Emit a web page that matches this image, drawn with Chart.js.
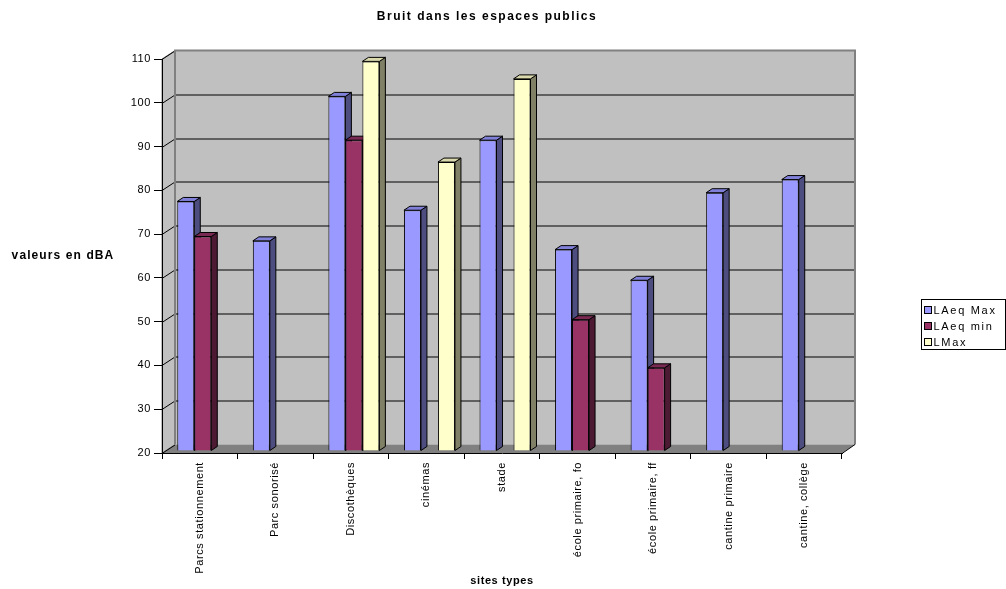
<!DOCTYPE html>
<html>
<head>
<meta charset="utf-8">
<script src="https://cdn.jsdelivr.net/npm/chart.js@4.4.0/dist/chart.umd.min.js"></script>
<style>
  html, body { margin: 0; padding: 0; background: #fff; }
  #wrap { width: 1006px; height: 589px; position: relative; }
</style>
</head>
<body>
<div id="wrap"><canvas id="bruitChart"></canvas></div>
<script>
// data
const sites = ['Parcs stationnement', 'Parc sonorisé', 'Discothèques', 'cinémas', 'stade',
               'école primaire, fo', 'école primaire, ff', 'cantine primaire', 'cantine, collège'];
const laeqMax = [77, 68, 101, 75, 91, 66, 59, 79, 82];
const laeqMin = [69, null, 91, null, null, 50, 39, null, null];
const lMax    = [null, null, 109, 86, 105, null, null, null, null];
const yMin = 20, yMax = 110, yStep = 10;

const chartTitle = 'Bruit dans les espaces publics';
const yTitle = 'valeurs en dBA';
const xTitle = 'sites types';

// 3d look
const DX = 13, DY = -8.5;      // depth of the walls
const BD = 6, BH = 4;          // depth of a bar
const SHIFT_X = 3, SHIFT_Y = -2;
const faces = [
  { side: '#4d4d80', top: '#8080d9' },
  { side: '#4d1a33', top: '#7a2952' },
  { side: '#808066', top: '#d9d9ad' }
];

const FONT = "'Liberation Sans', Arial, sans-serif";
Chart.defaults.font.family = FONT;
Chart.defaults.font.size = 11;
Chart.defaults.color = '#000';

function poly(ctx, pts, fill, stroke) {
  ctx.beginPath();
  ctx.moveTo(pts[0][0], pts[0][1]);
  for (let i = 1; i < pts.length; i++) ctx.lineTo(pts[i][0], pts[i][1]);
  ctx.closePath();
  if (fill) { ctx.fillStyle = fill; ctx.fill(); }
  if (stroke) { ctx.strokeStyle = stroke; ctx.lineWidth = 1; ctx.stroke(); }
}

const walls = {
  id: 'walls',
  beforeDraw(chart) {
    const { ctx, chartArea: a, scales: { y } } = chart;
    ctx.save();
    // side wall
    poly(ctx, [[a.left, a.top], [a.left + DX, a.top + DY], [a.left + DX, a.bottom + DY], [a.left, a.bottom]], '#c0c0c0', '#808080');
    // back wall
    poly(ctx, [[a.left + DX, a.top + DY], [a.right + DX, a.top + DY], [a.right + DX, a.bottom + DY], [a.left + DX, a.bottom + DY]], '#c0c0c0', null);
    // floor
    poly(ctx, [[a.left, a.bottom], [a.right, a.bottom], [a.right + DX, a.bottom + DY], [a.left + DX, a.bottom + DY]], '#808080', null);
    // grid lines
    ctx.lineWidth = 1;
    y.ticks.forEach(t => {
      const py = Math.round(y.getPixelForValue(t.value)) + 0.5;
      ctx.strokeStyle = '#000';
      ctx.beginPath();
      ctx.moveTo(a.left, py);
      ctx.lineTo(a.left + DX, py + DY);
      if (t.value > yMin && t.value < yMax) ctx.lineTo(a.right + DX, py + DY);
      ctx.stroke();
    });
    // wall borders
    ctx.strokeStyle = '#808080';
    ctx.lineWidth = 2;
    ctx.beginPath();
    ctx.moveTo(a.left + DX, a.bottom + DY);
    ctx.lineTo(a.left + DX, a.top + DY);
    ctx.lineTo(a.right + DX, a.top + DY);
    ctx.lineTo(a.right + DX, a.bottom + DY);
    ctx.stroke();
    ctx.strokeStyle = '#000';
    ctx.lineWidth = 1;
    ctx.beginPath();
    ctx.moveTo(a.right, a.bottom + 0.5);
    ctx.lineTo(a.right + DX, a.bottom + DY);
    ctx.stroke();
    ctx.restore();
    ctx.letterSpacing = '0.6px';
  },
  beforeDatasetsDraw(chart) {
    const ctx = chart.ctx;
    ctx.save();
    ctx.translate(SHIFT_X, SHIFT_Y);
    chart.data.datasets.forEach((ds, di) => {
      const meta = chart.getDatasetMeta(di);
      meta.data.forEach((el, i) => {
        if (ds.data[i] == null) return;
        const { x, y, base, width } = el.getProps(['x', 'y', 'base', 'width'], true);
        const l = x - width / 2, r = x + width / 2;
        el.draw(ctx);
        poly(ctx, [[r, y], [r + BD, y - BH], [r + BD, base - BH], [r, base]], faces[di].side, '#000');
        poly(ctx, [[l, y], [l + BD, y - BH], [r + BD, y - BH], [r, y]], faces[di].top, '#000');
      });
    });
    ctx.restore();
    return false;
  },
  afterDraw(chart) {
    const { ctx, chartArea: a } = chart;
    ctx.save();
    ctx.fillStyle = '#000';
    ctx.textBaseline = 'middle';
    // chart title
    ctx.font = 'bold 12px ' + FONT;
    ctx.letterSpacing = '1.5px';
    ctx.textAlign = 'center';
    ctx.fillText(chartTitle, 487, 17);
    // y title (horizontal)
    ctx.font = 'bold 12px ' + FONT;
    ctx.letterSpacing = '1.1px';
    ctx.fillText(yTitle, 63, (a.top + a.bottom) / 2);
    // legend
    const lx = 921.5, ly = 299.5;
    ctx.strokeStyle = '#000';
    ctx.lineWidth = 1;
    ctx.strokeRect(lx, ly, 84, 50);
    ctx.font = '11px ' + FONT;
    ctx.letterSpacing = '1.7px';
    ctx.textAlign = 'left';
    chart.data.datasets.forEach((ds, i) => {
      const cy = ly + 10.5 + i * 16;
      ctx.fillStyle = ds.backgroundColor;
      ctx.fillRect(lx + 3, cy - 3.5, 7, 7);
      ctx.strokeRect(lx + 3, cy - 3.5, 7, 7);
      ctx.fillStyle = '#000';
      ctx.fillText(ds.label, lx + 12, cy + 0.5);
    });
    ctx.restore();
  }
};

new Chart(document.getElementById('bruitChart'), {
  type: 'bar',
  data: {
    labels: sites,
    datasets: [
      { label: 'LAeq Max', data: laeqMax, backgroundColor: '#9999ff' },
      { label: 'LAeq min', data: laeqMin, backgroundColor: '#993366' },
      { label: 'LMax', data: lMax, backgroundColor: '#ffffcc' }
    ]
  },
  options: {
    responsive: true,
    maintainAspectRatio: false,
    animation: false,
    layout: { padding: { top: 59, right: 164, left: 0, bottom: 0 } },
    datasets: {
      bar: {
        base: yMin,
        borderColor: '#000',
        borderWidth: 1,
        barPercentage: 1,
        categoryPercentage: 0.675
      }
    },
    plugins: {
      legend: { display: false },
      tooltip: { enabled: false }
    },
    scales: {
      x: {
        afterFit(scale) { scale.height = 136; },
        grid: { offset: true, drawOnChartArea: false, tickLength: 6, tickColor: '#000' },
        border: { display: true, color: '#000' },
        ticks: { autoSkip: false, minRotation: 90, maxRotation: 90, padding: 3, font: { size: 11 } },
        title: { display: true, text: xTitle, font: { size: 11, weight: 'bold' }, padding: { top: 0, bottom: 1 } }
      },
      y: {
        min: yMin,
        max: yMax,
        afterFit(scale) { scale.width = 162; },
        grid: { drawOnChartArea: false, tickLength: 8, tickColor: '#000' },
        border: { display: true, color: '#000' },
        ticks: { stepSize: yStep, padding: 3, font: { size: 11 } }
      }
    }
  },
  plugins: [walls]
});
</script>
</body>
</html>
